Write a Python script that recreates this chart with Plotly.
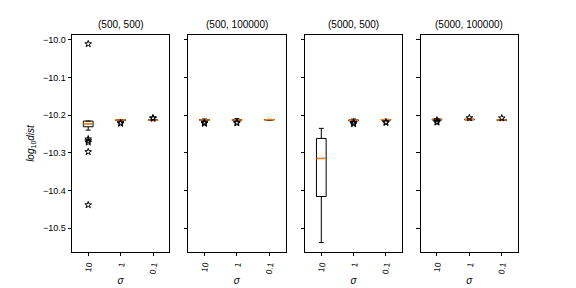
import plotly.graph_objects as go

panels = ["(500, 500)", "(500, 100000)", "(5000, 500)", "(5000, 100000)"]
sigma_labels = ["10", "1", "0.1"]
positions = [1, 2, 3]

q1 = [[-10.2306, -10.2140, -10.2138],
      [-10.2135, -10.2135, -10.2125],
      [-10.4157, -10.2150, -10.2128],
      [-10.2125, -10.2122, -10.2135]]
median = [[-10.2226, -10.2128, -10.2130],
          [-10.2125, -10.2125, -10.2118],
          [-10.3146, -10.2136, -10.2120],
          [-10.2115, -10.2112, -10.2128]]
q3 = [[-10.2154, -10.2120, -10.2124],
      [-10.2115, -10.2115, -10.2112],
      [-10.2615, -10.2125, -10.2113],
      [-10.2108, -10.2105, -10.2120]]
lower = [[-10.2394, -10.2150, -10.2145],
         [-10.2145, -10.2145, -10.2140],
         [-10.5380, -10.2160, -10.2130],
         [-10.2130, -10.2125, -10.2138]]
upper = [[-10.2154, -10.2118, -10.2118],
         [-10.2100, -10.2090, -10.2110],
         [-10.2348, -10.2100, -10.2108],
         [-10.2098, -10.2095, -10.2110]]
outliers = [
    [[-10.0106, -10.2633, -10.2680, -10.2720, -10.2970, -10.4380], [-10.2200, -10.2220], [-10.2070, -10.2085]],
    [[-10.2190, -10.2210, -10.2220], [-10.2190, -10.2210], []],
    [[], [-10.2190, -10.2210, -10.2230], [-10.2180, -10.2200]],
    [[-10.2170, -10.2190, -10.2130], [-10.2070], [-10.2075]],
]
yticks = [-10.0, -10.1, -10.2, -10.3, -10.4, -10.5]

FONT = "Liberation Sans"
OFF = 8  # page body margin
W, H = 576 - OFF, 288 - OFF
L, R, T, B = 72 - OFF, 518.3 - OFF, 35 - OFF, 252.3 - OFF
px_doms = [(72, 169.3), (188.3, 285.7), (305.3, 402.3), (421, 518.3)]
BOXW = 0.3

fig = go.Figure()
layout = dict(
    width=W, height=H, plot_bgcolor="white", paper_bgcolor="white",
    margin=dict(l=L, r=W - R, t=T, b=H - B, autoexpand=False),
    showlegend=False, font=dict(family=FONT, size=9, color="black"),
    boxmode="overlay", annotations=[],
)

for i in range(4):
    xa = "x" if i == 0 else f"x{i+1}"
    ya = "y" if i == 0 else f"y{i+1}"
    fig.add_trace(go.Box(
        x=positions, q1=q1[i], median=median[i], q3=q3[i],
        lowerfence=lower[i], upperfence=upper[i],
        width=BOXW, whiskerwidth=0.5, fillcolor="white",
        line=dict(color="black", width=1), boxpoints=False,
        xaxis=xa, yaxis=ya, hoverinfo="skip",
    ))
    mx, my = [], []
    for p, m in zip(positions, median[i]):
        mx += [p - BOXW / 2, p + BOXW / 2, None]
        my += [m, m, None]
    fig.add_trace(go.Scatter(x=mx, y=my, mode="lines",
                             line=dict(color="#ff7f0e", width=1.5),
                             xaxis=xa, yaxis=ya, hoverinfo="skip"))
    ox, oy = [], []
    for p, vals in zip(positions, outliers[i]):
        ox += [p] * len(vals)
        oy += vals
    fig.add_trace(go.Scatter(x=ox, y=oy, mode="markers",
                             marker=dict(symbol="star-open", size=5,
                                         color="black", line=dict(color="black", width=1)),
                             xaxis=xa, yaxis=ya, hoverinfo="skip"))
    d0 = (px_doms[i][0] - OFF - L) / (R - L)
    d1 = (px_doms[i][1] - OFF - L) / (R - L)
    xkey = "xaxis" if i == 0 else f"xaxis{i+1}"
    ykey = "yaxis" if i == 0 else f"yaxis{i+1}"
    layout[xkey] = dict(
        domain=[d0, d1], anchor=ya, range=[0.5, 3.5],
        tickvals=positions, ticktext=sigma_labels, tickangle=-80,
        ticks="outside", ticklen=3.5, tickcolor="black", tickwidth=0.8,
        showline=True, linecolor="black", linewidth=0.8, mirror=True,
        showgrid=False, zeroline=False, tickfont=dict(size=8.5),
        automargin=False,
        title=dict(text="<i>σ</i>", font=dict(size=10), standoff=2),
    )
    layout[ykey] = dict(
        domain=[0, 1], anchor=xa, range=[-10.563, -9.987],
        tickvals=yticks, ticktext=[f"\u2212{abs(v):.1f}" for v in yticks],
        showticklabels=(i == 0),
        ticks="outside", ticklen=3.5, tickcolor="black", tickwidth=0.8,
        showline=True, linecolor="black", linewidth=0.8, mirror=True,
        showgrid=False, zeroline=False, tickfont=dict(size=9),
        automargin=False,
    )
    if i == 0:
        layout[ykey]["title"] = dict(text="<i>log</i><sub>10</sub><i>dist</i>",
                                     font=dict(size=10), standoff=6)
    layout["annotations"].append(dict(
        text=panels[i], xref="paper", yref="paper",
        x=(d0 + d1) / 2, y=1, xanchor="center", yanchor="bottom",
        yshift=3, showarrow=False, font=dict(size=10),
    ))

fig.update_layout(**layout)
fig.write_html("out.html")
